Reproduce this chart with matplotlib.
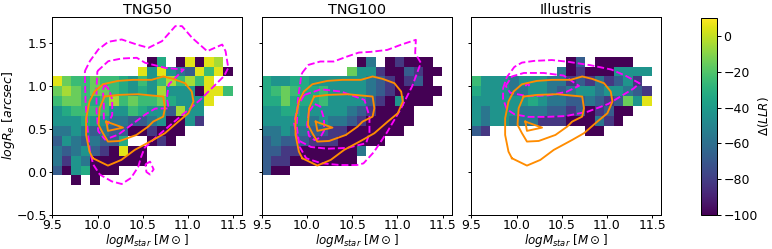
import numpy as np
import matplotlib.pyplot as plt

# colour levels (Delta LLR)
n = np.nan
D, P, S, B, T, g, G, L, y, Y = -100, -82, -68, -57, -43, -33, -25, -15, -5, 5

panel_names = ['TNG50', 'TNG100', 'Illustris']

# rows listed from top (row 15) downwards, columns from logM = 9.5 upwards
tng50_rows = [
    [n] * 10 + [D, g, n, D, Y, D, Y, y],
    [n] * 9 + [Y, T, Y, T, B, S, Y, G, Y, D],
    [Y, L, G, G, L, G, G, g, T, G, T, G, y, G, y, G, Y],
    [L, y, L, G, L, L, G, g, T, g, T, y, T, T, T, D, Y, Y, G],
    [G, L, L, G, g, G, y, G, L, G, G, L, g, T, T, T, Y],
    [T, g, G, G, G, G, T, T, G, g, T, T, S, y, T, T],
    [T, T, T, g, T, T, B, B, S, S, B, T, D, D, T, P],
    [B, B, T, B, S, B, S, S, D, D, P, D, D, D],
    [S, T, B, S, B, S, S, g, n, n, D, P, D],
    [B, S, B, T, S, P, D, Y, D, D],
    [B, P, T, B, D, D, D, D, D, D],
    [S, D, T, g, D, D, D],
    [n, n, D, n, D],
]
tng100_rows = [
    [n] * 10 + [D, B, n, D, P, D, D, D],
    [n] * 9 + [L, T, T, P, D, D, S, P, D, D],
    [g, T, T, g, g, T, T, T, T, T, T, B, S, P, D, P, S, D],
    [g, G, L, G, g, g, G, T, T, T, T, B, S, P, D, D, D, D, D],
    [g, g, L, g, g, g, G, T, T, T, T, S, P, D, T, D, D, D],
    [T, T, g, g, T, T, T, T, T, B, S, P, D, D, D, D],
    [T, T, T, T, T, B, T, B, B, S, P, D, D, D, D, D],
    [B, B, T, B, B, S, S, P, P, D, D, D, D, D, D],
    [S, B, S, S, S, P, P, P, D, D, D, D, D],
    [S, S, P, P, D, D, D, D, D, D, B],
    [S, P, P, D, D, D, D, D, D, D],
    [S, D, D],
]
illustris_rows = [
    [n] * 10 + [D, S, n, D, D, D, D],
    [n] * 9 + [B, D, P, D, D, D, T, T, T, T],
    [G, T, T, T, B, T, T, T, B, B, P, S, P, B, P, S, T, P],
    [g, T, T, T, B, B, T, T, B, S, B, T, T, B, T, T, B, S, P],
    [T, T, T, T, T, T, g, T, B, B, S, S, B, S, P, S, L, T, Y],
    [T, B, T, T, T, B, B, B, S, S, P, S, D, P, S, D, D],
    [T, B, T, T, B, B, B, P, P, P, D, D, D, B, P, D],
    [S, P] + [n] * 10 + [D, D],
]
all_rows = [tng50_rows, tng100_rows, illustris_rows]

# observed sample contours (same in every panel)
obs_outer = [(9.949, 0.159), (10.115, 0.074), (10.263, 0.140), (10.411, 0.256),
             (10.615, 0.372), (10.745, 0.450), (10.893, 0.585), (11.004, 0.682),
             (11.060, 0.818), (11.041, 0.934), (10.967, 1.031), (10.837, 1.081),
             (10.726, 1.109), (10.597, 1.070), (10.393, 1.070), (10.226, 1.058),
             (10.060, 1.019), (9.967, 0.934), (9.911, 0.818), (9.874, 0.624),
             (9.874, 0.430), (9.911, 0.236)]
obs_mid = [(10.078, 0.876), (10.226, 0.895), (10.449, 0.903), (10.726, 0.876),
           (10.745, 0.740), (10.726, 0.643), (10.615, 0.585), (10.560, 0.527),
           (10.430, 0.430), (10.245, 0.360), (10.115, 0.353), (10.060, 0.450),
           (10.011, 0.547), (10.023, 0.740)]
obs_core = [(10.097, 0.585), (10.282, 0.515), (10.115, 0.477)]
obs_contours = [obs_outer, obs_mid, obs_core]

# simulated sample contours
tng50_sim = [
    [(9.860, 1.171), (9.915, 1.287), (10.008, 1.422), (10.119, 1.512), (10.267, 1.539),
     (10.434, 1.480), (10.563, 1.442), (10.712, 1.519), (10.860, 1.694), (10.933, 1.694),
     (11.045, 1.558), (11.212, 1.403), (11.378, 1.480), (11.415, 1.403), (11.445, 1.209),
     (11.397, 1.112), (11.267, 0.977), (11.138, 0.841), (10.897, 0.628), (10.638, 0.395),
     (10.520, 0.280), (10.480, 0.170), (10.450, 0.060), (10.370, -0.070), (10.267, -0.140),
     (10.156, -0.109), (10.026, -0.031), (9.953, 0.085), (9.915, 0.240), (9.889, 0.512),
     (9.867, 0.822)],
    [(10.530, 0.090), (10.580, 0.120), (10.620, 0.030), (10.580, -0.030), (10.540, 0.000)],
    [(9.998, 1.171), (10.119, 1.287), (10.267, 1.318), (10.434, 1.326), (10.526, 1.268),
     (10.749, 1.209), (10.952, 1.190), (10.897, 1.132), (10.786, 1.016), (10.767, 0.861),
     (10.786, 0.737), (10.638, 0.737), (10.527, 0.667), (10.379, 0.551), (10.230, 0.434),
     (10.082, 0.376), (10.008, 0.473), (9.989, 0.706), (9.989, 0.977)],
    [(10.079, 1.020), (10.131, 0.950), (10.162, 0.840), (10.162, 0.660), (10.110, 0.550),
     (10.069, 0.620), (10.069, 0.800), (10.059, 0.950)],
]
tng100_sim = [
    [(9.945, 1.148), (10.017, 1.244), (10.147, 1.283), (10.296, 1.283), (10.444, 1.341),
     (10.574, 1.387), (10.704, 1.395), (10.889, 1.418), (11.037, 1.477), (11.204, 1.535),
     (11.196, 1.380), (11.259, 1.267), (11.165, 1.000), (11.036, 0.730), (10.885, 0.460),
     (10.739, 0.230), (10.625, 0.100), (10.552, 0.080), (10.362, 0.081), (10.159, 0.101),
     (9.992, 0.159), (9.918, 0.295), (9.888, 0.527), (9.900, 0.837), (9.933, 1.089)],
    [(9.970, 0.895), (10.154, 0.960), (10.377, 0.934), (10.636, 0.837), (10.691, 0.643),
     (10.691, 0.450), (10.654, 0.334), (10.450, 0.280), (10.228, 0.270), (10.044, 0.290),
     (9.896, 0.372), (9.858, 0.566), (9.896, 0.759)],
    [(10.022, 0.700), (10.085, 0.790), (10.147, 0.760), (10.189, 0.620), (10.189, 0.480),
     (10.147, 0.400), (10.085, 0.370), (10.022, 0.420), (10.002, 0.550)],
]
illustris_sim = [
    [(9.851, 0.970), (9.892, 1.100), (9.976, 1.220), (10.059, 1.270), (10.194, 1.290),
     (10.391, 1.300), (10.568, 1.280), (10.817, 1.240), (11.046, 1.190), (11.201, 1.120),
     (11.360, 1.030), (11.295, 0.970), (11.170, 0.890), (11.014, 0.790), (10.786, 0.700),
     (10.547, 0.650), (10.339, 0.640), (10.131, 0.640), (9.976, 0.670), (9.892, 0.730),
     (9.851, 0.850)],
    [(9.880, 1.000), (9.950, 1.110), (10.080, 1.150), (10.300, 1.150), (10.520, 1.120),
     (10.690, 1.000), (10.550, 0.930), (10.350, 0.890), (10.120, 0.880), (9.930, 0.920)],
    [(10.100, 1.000), (10.120, 1.030), (10.140, 1.010), (10.120, 0.990)],
]
sim_contours = [tng50_sim, tng100_sim, illustris_sim]

x_edges = np.linspace(9.5, 11.6, 21)
y_edges = np.linspace(-0.5, 1.8, 21)


def build_grid(rows, top=15):
  grid = np.full((20, 20), np.nan)
  for i, vals in enumerate(rows):
    grid[top - i, :len(vals)] = vals
  return np.ma.masked_invalid(grid)


def closed(pts):
  arr = np.array(pts + pts[:1])
  return arr[:, 0], arr[:, 1]


W, H = 772, 249
fig = plt.figure(figsize=(W / 90, H / 90), dpi=90)

ax_left = [52.3, 261.7, 471.3]
ax_w, ax_top, ax_bot = 190, 17, 215

axes = []
for k, name in enumerate(panel_names):
  ax = fig.add_axes([ax_left[k] / W, (H - ax_bot) / H, ax_w / W, (ax_bot - ax_top) / H])
  axes.append(ax)
  mesh = ax.pcolormesh(x_edges, y_edges, build_grid(all_rows[k]), cmap='viridis',
                       vmin=-100, vmax=10, shading='flat', antialiased=False)
  for c in sim_contours[k]:
    ax.plot(*closed(c), color='magenta', ls='--', lw=1.5)
  for c in obs_contours:
    ax.plot(*closed(c), color='darkorange', lw=1.5)
  ax.set_xlim(9.5, 11.6)
  ax.set_ylim(-0.5, 1.8)
  ax.set_xticks([9.5, 10.0, 10.5, 11.0, 11.5])
  ax.set_yticks([-0.5, 0.0, 0.5, 1.0, 1.5])
  ax.tick_params(labelsize=10, length=2.5)
  ax.tick_params(axis='x', pad=1)
  ax.tick_params(axis='y', pad=1.5)
  ax.set_title(name, fontsize=11.5, pad=2)
  ax.set_xlabel(r'$logM_{star}\ [M\odot]$', fontsize=9.5, labelpad=0)
  if k == 0:
    ax.set_ylabel(r'$logR_e\ [arcsec]$', fontsize=10, labelpad=0)
  else:
    ax.set_yticklabels([])

cax = fig.add_axes([701 / W, (H - ax_bot) / H, 16 / W, (ax_bot - 18) / H])
cb = fig.colorbar(mesh, cax=cax)
cb.set_ticks([0, -20, -40, -60, -80, -100])
cb.ax.tick_params(labelsize=10, pad=2, length=3)
cb.set_label(r'$\Delta(LLR)$', fontsize=9.5, labelpad=-1)

fig.savefig('out.png', dpi=90)
